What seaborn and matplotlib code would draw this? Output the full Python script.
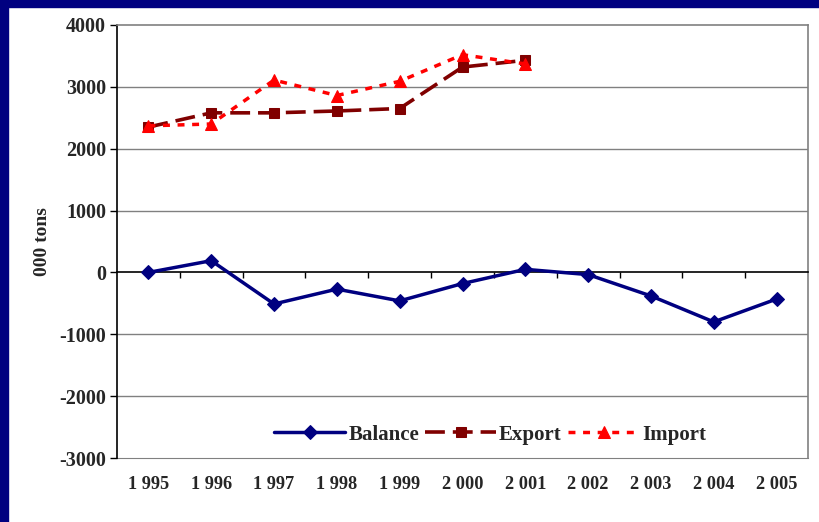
import matplotlib
matplotlib.use("Agg")
import matplotlib.pyplot as plt
import matplotlib.patches as mpatches
import seaborn as sns
import pandas as pd

# Trade data, thousand tons
years = [1995, 1996, 1997, 1998, 1999, 2000, 2001, 2002, 2003, 2004, 2005]
year_labels = ["1 995", "1 996", "1 997", "1 998", "1 999", "2 000",
               "2 001", "2 002", "2 003", "2 004", "2 005"]
balance = [0, 190, -510, -270, -460, -180, 50, -35, -380, -800, -430]
export = [2350, 2580, 2580, 2610, 2650, 3320, 3430]
imports = [2370, 2400, 3110, 2860, 3090, 3520, 3370]
y_ticks = [-3000, -2000, -1000, 0, 1000, 2000, 3000, 4000]

sns.set_style("white")
plt.rcParams["font.family"] = ["Liberation Serif", "DejaVu Serif"]
plt.rcParams["font.weight"] = "bold"

fig = plt.figure(figsize=(8.19, 5.22), dpi=100)
# dark blue slide frame on top and left
fig.patches.append(mpatches.Rectangle((0, 1 - 7 / 522), 1, 7 / 522, transform=fig.transFigure,
                                      color="#000080", zorder=0))
fig.patches.append(mpatches.Rectangle((0, 0), 8 / 819, 1, transform=fig.transFigure,
                                      color="#000080", zorder=0))

ax = fig.add_axes([117 / 819, 1 - 458 / 522, 691 / 819, 433 / 522])

df_bal = pd.DataFrame({"year": years, "value": balance})
df_exp = pd.DataFrame({"year": years[:len(export)], "value": export})
df_imp = pd.DataFrame({"year": years[:len(imports)], "value": imports})

sns.lineplot(data=df_bal, x="year", y="value", ax=ax, color="#000080", linewidth=2.5,
             marker="D", markersize=7, markeredgecolor="#000080", label="Balance", zorder=4)
sns.lineplot(data=df_exp, x="year", y="value", ax=ax, color="#800000", linewidth=2.6,
             marker="s", markersize=7, markeredgecolor="#800000", dashes=(5.5, 2.2),
             label="Export", zorder=3)
sns.lineplot(data=df_imp, x="year", y="value", ax=ax, color="#FF0000", linewidth=2.5,
             marker="^", markersize=8.5, markeredgecolor="#FF0000", dashes=(2, 2.2),
             label="Import", zorder=3)

ax.set_xlim(years[0] - 0.5, years[-1] + 0.5)
ax.set_ylim(y_ticks[0], y_ticks[-1])
ax.set_yticks(y_ticks)
ax.set_yticklabels([str(v) for v in y_ticks], fontsize=14.5, fontweight="bold")
ax.tick_params(axis="y", direction="out", length=5, width=1, color="black", pad=3, left=True)

# horizontal gridlines
for v in y_ticks[1:-1]:
    if v != 0:
        ax.axhline(v, color="#808080", linewidth=1, zorder=1)

# category axis crossing at zero
ax.spines["bottom"].set_position(("data", 0))
ax.spines["bottom"].set_color("black")
ax.spines["bottom"].set_linewidth(1.2)
ax.set_xticks([y + 0.5 for y in years[:-1]])
ax.set_xticklabels([])
ax.tick_params(axis="x", direction="out", length=4, width=1, color="black", bottom=True)

sec = ax.secondary_xaxis(0)
sec.set_xticks(years)
sec.set_xticklabels(year_labels, fontsize=13.2, fontweight="bold")
sec.tick_params(length=0, pad=13)
sec.spines["bottom"].set_color("#808080")

ax.spines["left"].set_color("black")
ax.spines["left"].set_linewidth(1.2)
for s in ["top", "right"]:
    ax.spines[s].set_color("#808080")
    ax.spines[s].set_linewidth(1.2)
    ax.spines[s].set_visible(True)

ax.set_xlabel("")
ax.set_ylabel("000 tons", fontsize=14, fontweight="bold", labelpad=6)

ax.legend(loc="center", bbox_to_anchor=(0.54, 0.054), ncol=3, frameon=False,
          prop={"size": 15, "weight": "bold"}, handlelength=3.4, handletextpad=0.15,
          columnspacing=0.3)

fig.savefig("out.png", dpi=100, facecolor="white")
